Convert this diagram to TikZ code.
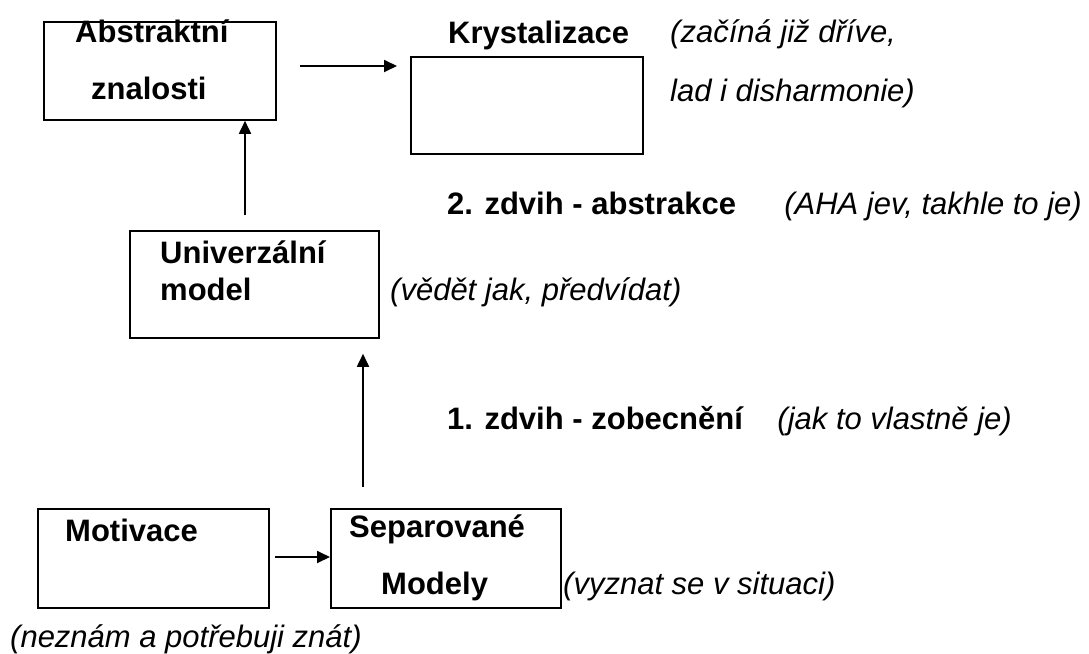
\documentclass[tikz,border=0pt]{standalone}
\usepackage{fontspec}
\setmainfont{Liberation Sans}
\usetikzlibrary{arrows.meta}
\tikzset{
  box/.style={draw, line width=1.8pt, inner sep=0pt, anchor=north west},
  lbl/.style={font=\fontsize{31}{37}\selectfont\bfseries, inner sep=0pt, anchor=base west},
  note/.style={font=\fontsize{31}{37}\selectfont\itshape, inner sep=0pt, anchor=base west},
  arr/.style={line width=1.8pt, -{Triangle[length=13pt,width=12pt]}},
}
\begin{document}
\begin{tikzpicture}[x=1pt,y=-1pt]
\useasboundingbox (0,0) rectangle (1089,653);

% boxes
\node[box, minimum width=232pt, minimum height=98pt]  (abs) at (43,21)  {};
\node[box, minimum width=232pt, minimum height=97pt]  (kry) at (410,56) {};
\node[box, minimum width=249pt, minimum height=107pt] (uni) at (129,230) {};
\node[box, minimum width=231pt, minimum height=99pt]  (mot) at (37,508) {};
\node[box, minimum width=230pt, minimum height=99pt]  (sep) at (330,508) {};

% box texts
\node[lbl] (absA) at (75,42)   {Abstraktní};
\node[lbl] (absB) at (91,99)   {znalosti};
\node[lbl] (kryA) at (448,43)  {Krystalizace};
\node[lbl] (uniA) at (160,263) {Univerzální};
\node[lbl] (uniB) at (160,300) {model};
\node[lbl] (motA) at (65,541)  {Motivace};
\node[lbl] (sepA) at (349,537) {Separované};
\node[lbl] (sepB) at (381,594) {Modely};

% stage labels
\node[lbl] (z2) at (447,214) {2. zdvih - abstrakce};
\node[lbl] (z1) at (447,429) {1. zdvih - zobecnění};

% comments
\node[note] (n1) at (670,42)  {(začíná již dříve,};
\node[note] (n2) at (670,101) {lad i disharmonie)};
\node[note, anchor=base east] (n3) at (1082,214) {(AHA jev, takhle to je)};
\node[note, anchor=base east] (n4) at (1012,429) {(jak to vlastně je)};
\node[note] (n5) at (390,300) {(vědět jak, předvídat)};
\node[note] (n6) at (563,594) {(vyznat se v situaci)};
\node[note] (n7) at (10,647)  {(neznám a potřebuji znát)};

% connectors
\coordinate (s1) at (300,66);
\draw[arr, shorten >=13pt] (s1) -- (s1 -| kry.west);
\coordinate (s2) at (245,215);
\draw[arr] (s2) -- (s2 |- abs.south);
\coordinate (s3) at (363,487);
\draw[arr, shorten >=15pt] (s3) -- (s3 |- uni.south);
\coordinate (s4) at (275,557);
\draw[arr] (s4) -- (s4 -| sep.west);
\end{tikzpicture}
\end{document}
